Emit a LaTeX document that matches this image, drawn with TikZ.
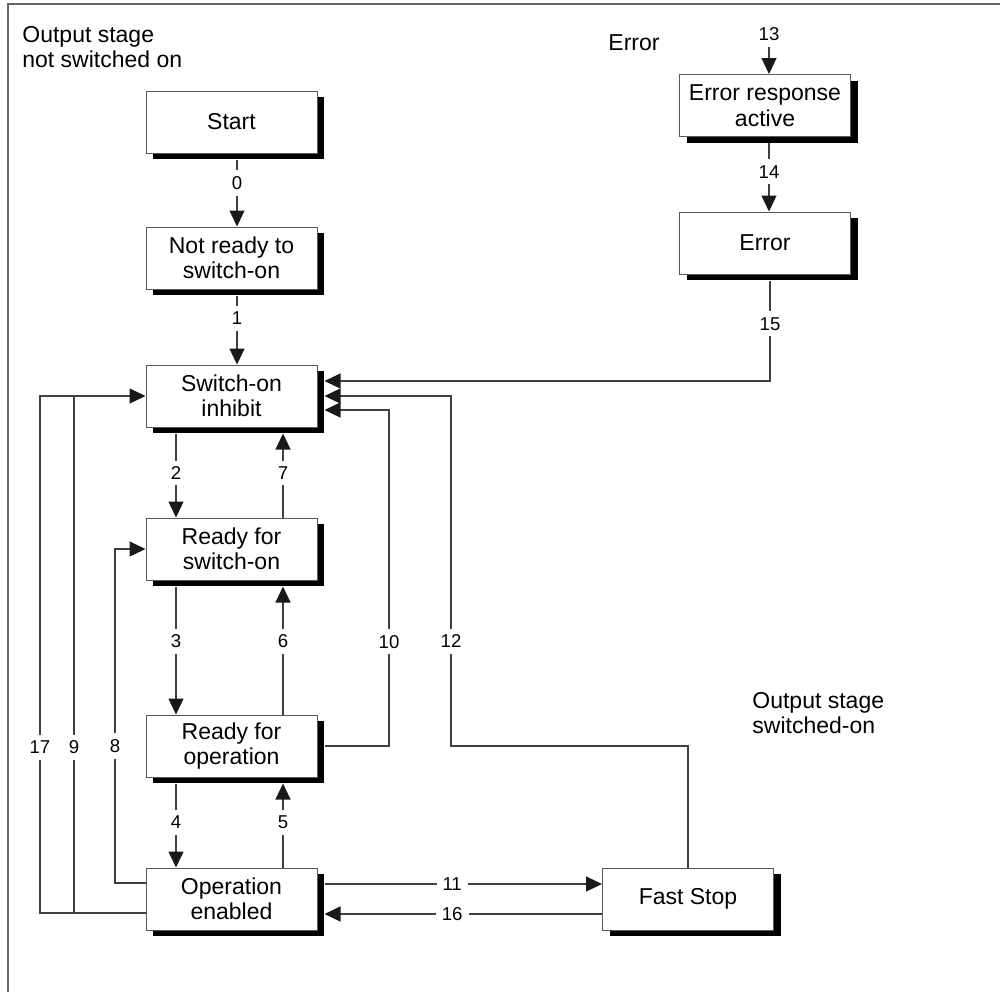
\documentclass[tikz,border=0pt]{standalone}
\usepackage{fontspec}
\setmainfont{Liberation Sans}
\usetikzlibrary{arrows.meta,shadows,calc}
\tikzset{
  box/.style={draw=black!65, line width=0.5pt, fill=white, minimum width=85.5pt, minimum height=31pt,
    inner sep=0pt, align=center, font=\fontsize{11.5pt}{12.75pt}\selectfont,
    general shadow={fill=black, shadow xshift=3.5pt, shadow yshift=-3pt}},
  conn/.style={draw=black!75, line width=0.6pt},
  arr/.style={conn, -{Triangle[length=8pt,width=7.5pt,color=black!90]}},
  lbl/.style={fill=white, inner sep=3pt, font=\fontsize{9.3pt}{11pt}\selectfont},
  txt/.style={align=left, inner sep=0pt, font=\fontsize{11.5pt}{12.5pt}\selectfont},
  frame/.style={draw=black!60, line width=0.8pt}
}
\begin{document}
\begin{tikzpicture}[x=0.5pt,y=-0.5pt]
\useasboundingbox (0,0) rectangle (1000,992);
\draw[frame] (1000,4) -- (8,4) -- (8,992);
% columns
\coordinate (cA) at (237,0);
\coordinate (cL) at (176,0);
\coordinate (cR) at (283,0);
\coordinate (cE) at (769,0);
\coordinate (c10) at (389,0);
\coordinate (c12) at (451,0);
\coordinate (c17) at (40,0);
\coordinate (c9) at (74,0);
\coordinate (c8) at (115,0);
\coordinate (top13) at (769,47);
% boxes
\node[box] (start) at (231.5,122) {Start};
\node[box] (nr) at (231.5,258) {Not ready to\\switch-on};
\node[box] (si) at (231.5,396) {Switch-on\\inhibit};
\node[box] (rs) at (231.5,549) {Ready for\\switch-on};
\node[box] (ro) at (231.5,746) {Ready for\\operation};
\node[box] (oe) at (231.5,899) {Operation\\enabled};
\node[box] (fs) at (688,899) {Fast Stop};
\node[box] (era) at (765,105.5) {Error response\\active};
\node[box] (err) at (765,243) {Error};
% texts
\node[txt, anchor=west] (t1) at (22,47.5) {Output stage\\not switched on};
\node[txt, anchor=west] (t2) at (752,713.5) {Output stage\\switched-on};
\node[txt, anchor=west] (t3) at (608,43) {Error};
\node[lbl, fill=none] (l13) at (769,34) {13};
% main chain
\draw[arr] ($(start.south -| cA)+(0,6)$) -- node[lbl, pos=0.35]{0} (nr.north -| cA);
\draw[arr] ($(nr.south -| cA)+(0,6)$) -- node[lbl, pos=0.33]{1} (si.north -| cA);
\draw[arr] ($(si.south -| cL)+(0,6)$) -- node[lbl, pos=0.47]{2} (rs.north -| cL);
\draw[arr] (rs.north -| cR) -- node[lbl, pos=0.53]{7} ($(si.south -| cR)+(0,6)$);
\draw[arr] ($(rs.south -| cL)+(0,6)$) -- node[lbl, pos=0.43]{3} (ro.north -| cL);
\draw[arr] (ro.north -| cR) -- node[lbl, pos=0.57]{6} ($(rs.south -| cR)+(0,6)$);
\draw[arr] ($(ro.south -| cL)+(0,6)$) -- node[lbl, pos=0.46]{4} (oe.north -| cL);
\draw[arr] (oe.north -| cR) -- node[lbl, pos=0.54]{5} ($(ro.south -| cR)+(0,6)$);
% error branch
\draw[arr] (top13) -- (era.north -| cE);
\draw[arr] ($(era.south -| cE)+(0,6)$) -- node[lbl, pos=0.42]{14} (err.north -| cE);
\draw[arr] ($(err.south -| cE)+(1,6)$) -- node[lbl, pos=0.43]{15} ($(si.center -| cE)+(1,-15)$) -- ($(si.east)+(7,-15)$);
% returns to switch-on inhibit from right
\draw[arr] ($(ro.east)+(7,0)$) -- (c10 |- ro.center) -- node[lbl, pos=0.31]{10} ($(si.center -| c10)+(0,14)$) -- ($(si.east)+(7,14)$);
\draw[arr] (fs.north) -- (fs.north |- ro.center) -- (c12 |- ro.center) -- node[lbl, pos=0.30]{12} (c12 |- si.center) -- ($(si.east)+(7,0)$);
% returns from left
\draw[arr] ($(oe.west)+(0,14)$) -- ($(c17 |- oe.center)+(0,14)$) -- node[lbl, pos=0.32]{17} (c17 |- si.center) -- (si.west);
\draw[conn] ($(c9 |- oe.center)+(0,14)$) -- node[lbl, pos=0.32]{9} (c9 |- si.center);
\draw[arr] ($(oe.west)+(0,-16)$) -- ($(c8 |- oe.center)+(0,-16)$) -- node[lbl, pos=0.41]{8} (c8 |- rs.center) -- (rs.west);
% fast stop
\draw[arr] ($(oe.east)+(7,-15)$) -- node[lbl, pos=0.46]{11} ($(fs.west)+(0,-15)$);
\draw[arr] ($(fs.west)+(0,15)$) -- node[lbl, pos=0.54]{16} ($(oe.east)+(7,15)$);
\end{tikzpicture}
\end{document}
